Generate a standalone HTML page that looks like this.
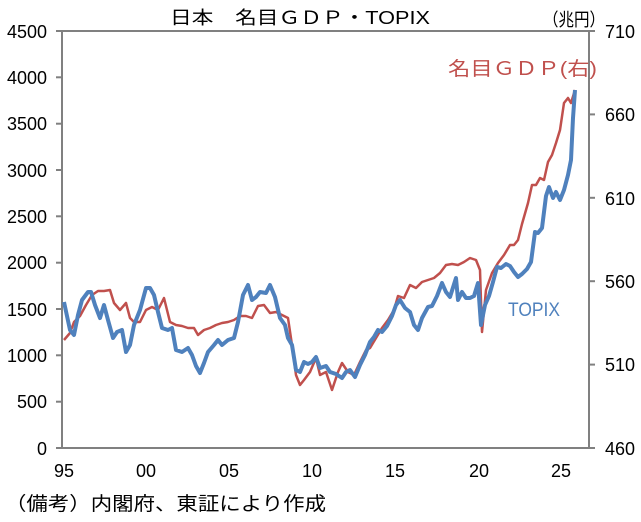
<!DOCTYPE html>
<html><head><meta charset="utf-8"><style>
html,body{margin:0;padding:0;background:#fff;}
svg text{font-family:"Liberation Sans","Noto Sans CJK JP",sans-serif;}
</style></head><body>
<svg width="641" height="517" viewBox="0 0 641 517" xmlns="http://www.w3.org/2000/svg">
<rect width="641" height="517" fill="#fff"/>
<rect x="62" y="31" width="527" height="417" fill="none" stroke="#808080" stroke-width="2"/>
<g stroke="#808080" stroke-width="2">
<line x1="56" y1="31" x2="62" y2="31"/><line x1="56" y1="77.3" x2="62" y2="77.3"/><line x1="56" y1="123.7" x2="62" y2="123.7"/><line x1="56" y1="170" x2="62" y2="170"/><line x1="56" y1="216.3" x2="62" y2="216.3"/><line x1="56" y1="262.7" x2="62" y2="262.7"/><line x1="56" y1="309" x2="62" y2="309"/><line x1="56" y1="355.3" x2="62" y2="355.3"/><line x1="56" y1="401.7" x2="62" y2="401.7"/><line x1="56" y1="448" x2="62" y2="448"/>
<line x1="589" y1="31" x2="595" y2="31"/><line x1="589" y1="114.4" x2="595" y2="114.4"/><line x1="589" y1="197.8" x2="595" y2="197.8"/><line x1="589" y1="281.2" x2="595" y2="281.2"/><line x1="589" y1="364.6" x2="595" y2="364.6"/><line x1="589" y1="448" x2="595" y2="448"/>
</g>
<g font-size="18" fill="#000" text-anchor="end">
<text x="47" y="38">4500</text><text x="47" y="84">4000</text><text x="47" y="130">3500</text><text x="47" y="177">3000</text><text x="47" y="223">2500</text><text x="47" y="269">2000</text><text x="47" y="316">1500</text><text x="47" y="362">1000</text><text x="47" y="408">500</text><text x="47" y="455">0</text>
</g>
<g font-size="18" fill="#000">
<text x="605" y="38">710</text><text x="605" y="121">660</text><text x="605" y="205">610</text><text x="605" y="288">560</text><text x="605" y="371">510</text><text x="605" y="455">460</text>
</g>
<g font-size="18" fill="#000" text-anchor="middle">
<text x="64" y="477">95</text><text x="146" y="477">00</text><text x="229" y="477">05</text><text x="312" y="477">10</text><text x="395" y="477">15</text><text x="479" y="477">20</text><text x="561" y="477">25</text>
</g>
<text x="170" y="24" font-size="18" textLength="260" lengthAdjust="spacingAndGlyphs" fill="#000">日本　名目ＧＤＰ・TOPIX</text>
<text x="543" y="26" font-size="18" textLength="62" lengthAdjust="spacingAndGlyphs" fill="#000">（兆円）</text>
<text x="448" y="75" font-size="19" textLength="149" lengthAdjust="spacingAndGlyphs" fill="#c0504d">名目ＧＤＰ(右)</text>
<text x="508" y="316" font-size="19" textLength="52" lengthAdjust="spacingAndGlyphs" fill="#4f81bd">TOPIX</text>
<text x="5" y="510" font-size="19" textLength="321" lengthAdjust="spacingAndGlyphs" fill="#000">（備考）内閣府、東証により作成</text>
<polyline fill="none" stroke="#c0504d" stroke-width="2.5" stroke-linejoin="round" points="64,340 70,333 74,322 80,316 86,305 92,295 98,291 104,291 110,290 114,303 120,310 126,303 130,318 134,322 140,322 146,310 152,307 158,310 164,298 170,322 176,325 182,326 188,328 194,328 198,335 204,330 210,328 216,325 222,323 228,322 234,320 240,316 246,316 252,318 258,306 264,305 270,313 276,312 282,315 288,318 292,345 296,375 300,385 304,380 310,372 316,358 320,375 326,372 332,390 338,372 342,363 348,372 354,375 360,362 366,350 370,348 376,338 382,328 388,320 394,310 398,296 404,298 410,285 416,288 422,282 428,280 434,278 440,273 446,265 452,264 458,265 464,262 470,258 476,260 480,270 482,332 486,290 492,273 498,263 504,255 510,245 514,245 518,240 522,224 528,203 532,185 536,185 540,178 544,180 548,162 552,155 556,143 560,130 564,103 568,98 571,103 575,90"/>
<polyline fill="none" stroke="#4f81bd" stroke-width="4" stroke-linejoin="round" points="64,302 70,330 74,335 78,315 82,300 88,292 91,292 95,305 100,318 104,305 108,320 113,338 117,332 122,330 126,352 130,345 134,325 140,310 146,288 150,288 154,295 158,312 162,328 168,330 172,328 176,350 182,352 188,348 192,355 196,366 200,373 204,363 208,352 214,345 218,340 222,345 228,340 234,338 238,322 243,295 248,285 252,300 256,297 260,292 266,293 270,285 275,297 280,318 285,325 288,338 292,345 296,370 300,372 304,362 308,364 312,362 316,357 320,368 326,366 330,372 336,374 342,378 346,372 350,370 355,377 360,365 365,355 370,342 374,337 378,330 382,332 387,326 392,316 396,305 400,300 405,308 410,312 414,325 418,330 422,318 428,307 432,306 437,296 442,283 446,292 450,297 456,278 458,300 462,292 466,298 470,298 474,296 478,283 481,325 485,305 489,296 493,282 497,267 501,268 506,264 510,266 514,272 518,277 522,274 527,269 531,262 535,232 538,233 542,228 546,196 549,187 553,198 556,192 560,200 564,190 568,175 571,160 573,118 575,90"/>
</svg>
</body></html>
